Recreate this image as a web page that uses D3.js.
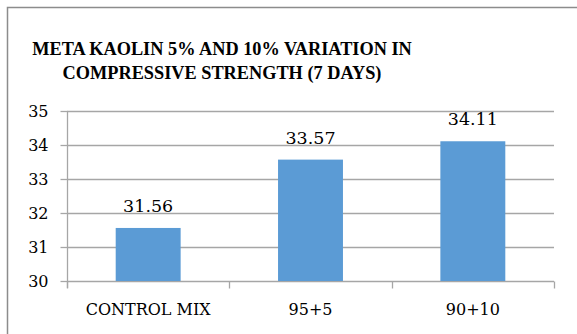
<!DOCTYPE html>
<html>
<head>
<meta charset="utf-8">
<script src="https://cdn.jsdelivr.net/npm/d3@7"></script>
<style>
  html, body { margin: 0; padding: 0; background: #fff; }
  svg { display: block; }
  text { fill: #000; }
  .title { font-family: "Liberation Serif", "Times New Roman", serif; font-weight: bold; }
  .num, .cat { font-family: "DejaVu Serif", serif; }
</style>
</head>
<body>
<svg id="chart" width="577" height="334"></svg>
<script>
// Compressive strength at 7 days (MPa)
const categories = ["CONTROL MIX", "95+5", "90+10"];
const strengths = [31.56, 33.57, 34.11];
const yTicks = [30, 31, 32, 33, 34, 35];
const titleLines = ["META KAOLIN 5% AND 10% VARIATION IN", "COMPRESSIVE STRENGTH (7 DAYS)"];

const W = 577, H = 334;
const margin = { top: 111, right: 23, bottom: 53, left: 67 };
const gridColor = "#a6a6a6";
const barColor = "#5b9bd5";

const svg = d3.select("#chart");

// frame around the chart area
svg.append("path")
  .attr("d", `M7.5,${H} V7.5 H${W}`)
  .attr("fill", "none")
  .attr("stroke", "#8c8c8c")
  .attr("stroke-width", 1.5);

// title
svg.append("g")
  .selectAll("text")
  .data(titleLines)
  .join("text")
  .attr("class", "title")
  .attr("x", 222)
  .attr("y", (d, i) => 55 + i * 23.5)
  .attr("text-anchor", "middle")
  .attr("font-size", 18.3)
  .text(d => d);

const x = d3.scaleBand()
  .domain(categories)
  .range([margin.left, W - margin.right])
  .paddingInner(0.6)
  .paddingOuter(0.3);

const y = d3.scaleLinear()
  .domain([30, 35])
  .range([H - margin.bottom, margin.top]);

// horizontal gridlines
svg.append("g")
  .selectAll("line")
  .data(yTicks)
  .join("line")
  .attr("x1", margin.left)
  .attr("x2", W - margin.right)
  .attr("y1", d => Math.round(y(d)) + 0.5)
  .attr("y2", d => Math.round(y(d)) + 0.5)
  .attr("stroke", gridColor)
  .attr("stroke-width", 1.3);

// y axis
const yAxis = svg.append("g")
  .attr("transform", `translate(${margin.left + 0.5},0)`)
  .call(d3.axisLeft(y).tickValues(yTicks).tickFormat(d3.format("d")).tickSize(7).tickPadding(12));
yAxis.select(".domain").remove();
yAxis.selectAll(".tick line").attr("stroke", gridColor).attr("stroke-width", 1.3);
yAxis.selectAll(".tick text").attr("class", "num").attr("font-size", 16).attr("font-family", null);
yAxis.append("line")
  .attr("y1", y(35)).attr("y2", y(30) + 7)
  .attr("stroke", gridColor).attr("stroke-width", 1.3);

// x axis: tick marks on the category boundaries
const xBase = Math.round(y(30)) + 0.5;
const span = W - margin.right - margin.left;
const bandEdges = d3.range(categories.length + 1).map(i => margin.left + i * span / categories.length);
svg.append("g")
  .selectAll("line")
  .data(bandEdges)
  .join("line")
  .attr("x1", d => Math.round(d) + 0.5)
  .attr("x2", d => Math.round(d) + 0.5)
  .attr("y1", xBase)
  .attr("y2", xBase + 7)
  .attr("stroke", gridColor)
  .attr("stroke-width", 1.3);

// category labels
svg.append("g")
  .selectAll("text")
  .data(categories)
  .join("text")
  .attr("class", "cat")
  .attr("x", d => x(d) + x.bandwidth() / 2)
  .attr("y", 315)
  .attr("text-anchor", "middle")
  .attr("font-size", 16)
  .text(d => d);

// bars
svg.append("g")
  .selectAll("rect")
  .data(strengths)
  .join("rect")
  .attr("x", (d, i) => x(categories[i]))
  .attr("width", x.bandwidth())
  .attr("y", d => y(d))
  .attr("height", d => y(30) - y(d))
  .attr("fill", barColor);

// value labels
svg.append("g")
  .selectAll("text")
  .data(strengths)
  .join("text")
  .attr("class", "num")
  .attr("x", (d, i) => x(categories[i]) + x.bandwidth() / 2)
  .attr("y", d => y(d) - 16)
  .attr("text-anchor", "middle")
  .attr("font-size", 17.5)
  .text(d => d.toFixed(2));
</script>
</body>
</html>
